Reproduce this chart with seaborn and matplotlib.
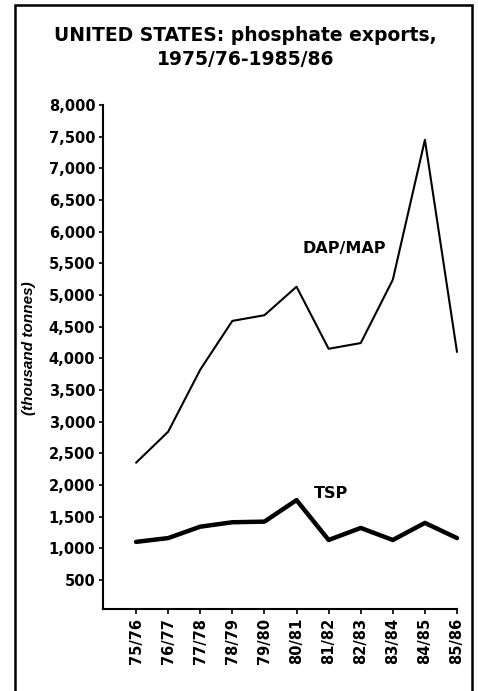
import matplotlib
matplotlib.use('Agg')
import matplotlib.pyplot as plt
from matplotlib.patches import Rectangle
import seaborn as sns
import pandas as pd

# values (thousand tonnes)
seasons = ['75/76', '76/77', '77/78', '78/79', '79/80', '80/81',
           '81/82', '82/83', '83/84', '84/85', '85/86']
dap_map = [2350, 2840, 3820, 4590, 4680, 5130, 4150, 4240, 5240, 7450, 4100]
tsp = [1100, 1160, 1340, 1410, 1420, 1760, 1130, 1320, 1130, 1400, 1160]
yticks = list(range(500, 8001, 500))

df = pd.DataFrame({'season': seasons, 'DAP/MAP': dap_map, 'TSP': tsp})

sns.set_style('ticks')
plt.rcParams['font.family'] = ['DejaVu Sans']
for k in ['text.color', 'axes.labelcolor', 'xtick.color', 'ytick.color']:
    plt.rcParams[k] = 'black'

fig = plt.figure(figsize=(4.78, 6.91), dpi=100)
ax = fig.add_axes([103 / 478, 1 - 609 / 691, 354 / 478, 504 / 691])

sns.lineplot(data=df, x='season', y='DAP/MAP', color='black', lw=1.5,
             ax=ax, clip_on=False)
sns.lineplot(data=df, x='season', y='TSP', color='black', lw=3.2,
             ax=ax, clip_on=False)

ax.set_xlim(-1.03, 10)
ax.set_ylim(40, 8000)
ax.set_yticks(yticks)
ax.set_yticklabels(['{:,}'.format(v) for v in yticks])
ax.set_xticks(range(len(seasons)))
ax.set_xticklabels(seasons, rotation=90)
ax.set_xlabel('')
ax.set_ylabel('(thousand tonnes)', fontsize=11, fontweight='bold',
              style='italic', family='Liberation Sans')
ax.yaxis.set_label_coords(-0.19, 0.518)

for lab in ax.get_xticklabels() + ax.get_yticklabels():
    lab.set_fontweight('bold')
    lab.set_fontsize(10.5)
ax.tick_params(axis='y', length=3, width=1.2, pad=2.5, colors='black')
ax.tick_params(axis='x', length=3.5, width=1.2, pad=3, colors='black')

sns.despine(ax=ax)
for s in ['left', 'bottom']:
    ax.spines[s].set_linewidth(1.5)
    ax.spines[s].set_color('black')

# line labels
ax.text(5.2, 5730, 'DAP/MAP', fontsize=11.5, fontweight='bold', va='center')
ax.text(5.55, 1870, 'TSP', fontsize=11.5, fontweight='bold', va='center')

fig.text(0.513, 1 - 47.5 / 691,
         'UNITED STATES: phosphate exports,\n1975/76-1985/86',
         ha='center', va='center', fontsize=13.5, fontweight='bold',
         linespacing=1.3)

# box round the whole chart
fig.patches.append(Rectangle((15 / 478, -0.1), 457 / 478, 1.1 - 5 / 691,
                             transform=fig.transFigure, fill=False,
                             lw=1.8, ec='black'))

fig.savefig('out.png', dpi=100)
